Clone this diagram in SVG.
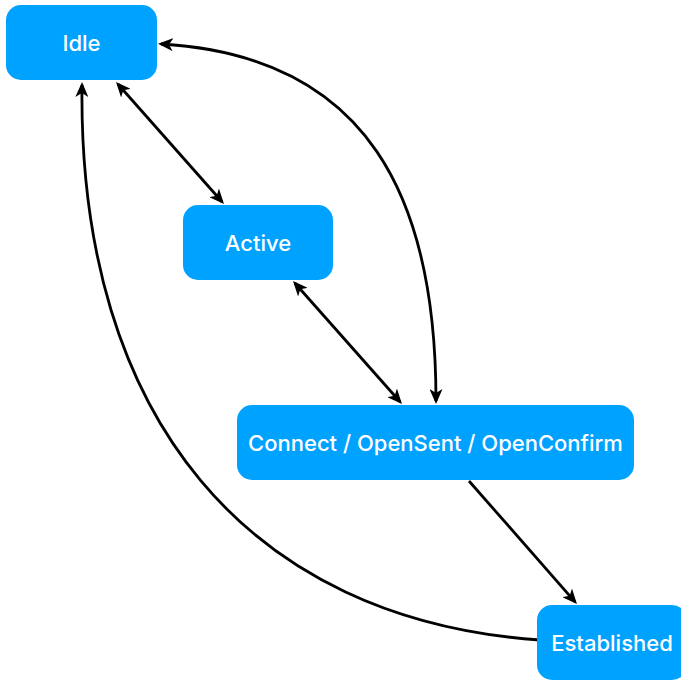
<svg xmlns="http://www.w3.org/2000/svg" width="681" height="680" viewBox="0 0 681 680">
  <style>
    .node rect { fill: #00A2FF; }
    .node text { fill: #ffffff; font-family: Inter, "Liberation Sans", Arial, Helvetica, sans-serif; font-weight: 500; font-size: 22px; text-anchor: middle; dominant-baseline: central; }
    .edge { fill: none; stroke: #000000; stroke-width: 2.8; }
  </style>
  <defs>
    <marker id="arrow" markerUnits="userSpaceOnUse" viewBox="0 0 15 13" markerWidth="15" markerHeight="13" refX="12" refY="6.5" orient="auto-start-reverse">
      <path d="M0,0 L15,6.5 L0,13 L4,6.5 z" fill="#000000"/>
    </marker>
  </defs>
  <rect width="681" height="680" fill="#ffffff"/>
  <g id="connectors">
    <line class="edge" x1="118" y1="84.2" x2="222" y2="201.8" marker-start="url(#arrow)" marker-end="url(#arrow)"/>
    <line class="edge" x1="295" y1="283.2" x2="400" y2="401.8" marker-start="url(#arrow)" marker-end="url(#arrow)"/>
    <path class="edge" d="M161,44 C370,56 436,200 436,401" marker-start="url(#arrow)" marker-end="url(#arrow)"/>
    <line class="edge" x1="469" y1="481" x2="575" y2="601.8" marker-end="url(#arrow)"/>
    <path class="edge" d="M540,640 C250,620 78,420 82,85" marker-end="url(#arrow)"/>
  </g>
  <g id="node-idle" class="node">
    <rect x="6" y="5" width="151" height="75" rx="15"/>
    <text x="81.5" y="43">Idle</text>
  </g>
  <g id="node-active" class="node">
    <rect x="183" y="205" width="150" height="75" rx="15"/>
    <text x="258" y="243">Active</text>
  </g>
  <g id="node-connect" class="node">
    <rect x="237" y="405" width="397" height="75" rx="15"/>
    <text x="435.5" y="443">Connect / OpenSent / OpenConfirm</text>
  </g>
  <g id="node-established" class="node">
    <rect x="537" y="605" width="150" height="75" rx="15"/>
    <text x="612" y="643">Established</text>
  </g>
</svg>
